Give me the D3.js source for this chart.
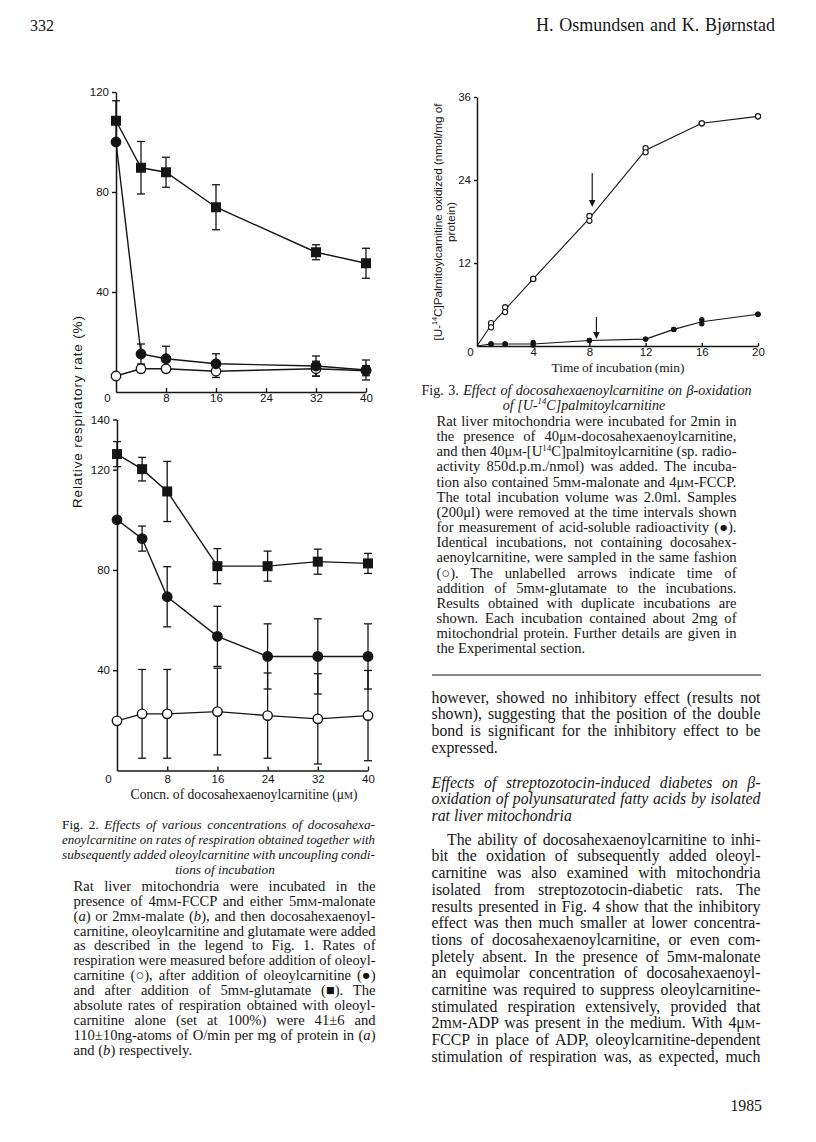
<!DOCTYPE html>
<html>
<head>
<meta charset="utf-8">
<script src="https://cdn.jsdelivr.net/npm/d3@7"></script>
<style>
  html, body { margin: 0; padding: 0; background: #fff; }
  svg { display: block; }
</style>
</head>
<body>
<script>
// Fig. 2 (a): respiration with 5mM-malonate, % of oleoylcarnitine alone
const concA = [0, 4, 8, 16, 32, 40];
const beforeA = [6.4, 9.3, 9.3, 8.3, 9.3, 8.5];
const beforeAErr = [0, 1.5, 1.2, 2.5, 3, 2];
const oleoylA = [100, 15.2, 13.3, 11.3, 10.4, 8.8];
const oleoylAErr = [0, 4, 5, 4, 4, 4];
const glutA = [108.5, 89.7, 87.9, 73.9, 55.9, 51.5];
const glutAErr = [8, 10.5, 6, 9, 3, 6];

// Fig. 2 (b): respiration with 2mM-malate
const concB = [0, 4, 8, 16, 24, 32, 40];
const beforeB = [19.8, 22.6, 22.6, 23.5, 21.9, 20.6, 21.9];
const beforeBErr = [0, 17.7, 17.7, 17.3, 17, 18, 18];
const oleoylB = [100, 92.5, 69.3, 53.5, 45.5, 45.5, 45.5];
const oleoylBErr = [0, 5, 12, 12, 13, 15, 13];
const glutB = [126.2, 120.2, 111.3, 81.5, 81.5, 83.3, 82.6];
const glutBErr = [5, 4.7, 12, 7, 6, 5, 4];

const concTicks = [0, 8, 16, 24, 32, 40];
const rateTicksA = [40, 80, 120];
const rateTicksB = [40, 80, 120, 140];

// Fig. 3: [U-14C]palmitoylcarnitine oxidized, duplicate incubations
const timeControl = [0, 1, 2, 4, 8, 12, 16, 20];
const controlRun1 = [0, 3.3, 5.6, 9.7, 18.8, 28.6, 32.2, 33.2];
const controlRun2 = [0, 2.7, 4.9, 9.7, 18.1, 28.0, 32.2, 33.2];
const timeDha = [0, 1, 2, 4, 8, 12, 14, 16, 20];
const dhaRun1 = [0, 0.3, 0.3, 0.5, 0.8, 1.0, 2.4, 3.8, 4.6];
const dhaRun2 = [0, 0.3, 0.3, 0.1, 0.8, 1.0, 2.4, 3.2, 4.6];
const arrowTime = [8.2, 8.5];
const arrowFrom = [25, 4.2];
const arrowTo = [20.1, 1.0];
const timeTicks = [0, 4, 8, 12, 16, 20];
const oxTicks = [12, 24, 36];

// page text
const fig2Title = [
  "Fig. 2. {i}Effects of various concentrations of docosahexa-{/i}",
  "{i}enoylcarnitine on rates of respiration obtained together with{/i}",
  "{i}subsequently added oleoylcarnitine with uncoupling condi-{/i}",
  "{i}tions of incubation{/i}"
];
const fig2Body = [
  "Rat liver mitochondria were incubated in the",
  "presence of 4m{sc}M{/sc}-FCCP and either 5m{sc}M{/sc}-malonate",
  "({i}a{/i}) or 2m{sc}M{/sc}-malate ({i}b{/i}), and then docosahexaenoyl-",
  "carnitine, oleoylcarnitine and glutamate were added",
  "as described in the legend to Fig. 1. Rates of",
  "respiration were measured before addition of oleoyl-",
  "carnitine (○), after addition of oleoylcarnitine (●)",
  "and after addition of 5m{sc}M{/sc}-glutamate (■). The",
  "absolute rates of respiration obtained with oleoyl-",
  "carnitine alone (set at 100%) were 41±6 and",
  "110±10ng-atoms of O/min per mg of protein in ({i}a{/i})",
  "and ({i}b{/i}) respectively."
];
const fig3Title = [
  "Fig. 3. {i}Effect of docosahexaenoylcarnitine on β-oxidation{/i}",
  "{i}of [U-{sup}14{/sup}C]palmitoylcarnitine{/i}"
];
const fig3Body = [
  "Rat liver mitochondria were incubated for 2min in",
  "the presence of 40μ{sc}M{/sc}-docosahexaenoylcarnitine,",
  "and then 40μ{sc}M{/sc}-[U{sup}14{/sup}C]palmitoylcarnitine (sp. radio-",
  "activity 850d.p.m./nmol) was added. The incuba-",
  "tion also contained 5m{sc}M{/sc}-malonate and 4μ{sc}M{/sc}-FCCP.",
  "The total incubation volume was 2.0ml. Samples",
  "(200μl) were removed at the time intervals shown",
  "for measurement of acid-soluble radioactivity (●).",
  "Identical incubations, not containing docosahex-",
  "aenoylcarnitine, were sampled in the same fashion",
  "(○). The unlabelled arrows indicate time of",
  "addition of 5m{sc}M{/sc}-glutamate to the incubations.",
  "Results obtained with duplicate incubations are",
  "shown. Each incubation contained about 2mg of",
  "mitochondrial protein. Further details are given in",
  "the Experimental section."
];
const para1 = [
  "however, showed no inhibitory effect (results not",
  "shown), suggesting that the position of the double",
  "bond is significant for the inhibitory effect to be",
  "expressed."
];
const heading = [
  "{i}Effects of streptozotocin-induced diabetes on β-{/i}",
  "{i}oxidation of polyunsaturated fatty acids by isolated{/i}",
  "{i}rat liver mitochondria{/i}"
];
const para2 = [
  "The ability of docosahexaenoylcarnitine to inhi-",
  "bit the oxidation of subsequently added oleoyl-",
  "carnitine was also examined with mitochondria",
  "isolated from streptozotocin-diabetic rats. The",
  "results presented in Fig. 4 show that the inhibitory",
  "effect was then much smaller at lower concentra-",
  "tions of docosahexaenoylcarnitine, or even com-",
  "pletely absent. In the presence of 5m{sc}M{/sc}-malonate",
  "an equimolar concentration of docosahexaenoyl-",
  "carnitine was required to suppress oleoylcarnitine-",
  "stimulated respiration extensively, provided that",
  "2m{sc}M{/sc}-ADP was present in the medium. With 4μ{sc}M{/sc}-",
  "FCCP in place of ADP, oleoylcarnitine-dependent",
  "stimulation of respiration was, as expected, much"
];

const SERIF = '"Liberation Serif", "Times New Roman", Times, serif';
const SANS = '"Liberation Sans", Arial, Helvetica, sans-serif';
const INK = '#151515';

const svg = d3.select('body').append('svg')
  .attr('width', 816).attr('height', 1142)
  .attr('viewBox', '0 0 816 1142');
svg.append('rect').attr('width', 816).attr('height', 1142).attr('fill', '#fff');

// small markup: {i} italic, {sc} small capital, {sup} superscript
function rich(text, str, fs) {
  let it = false, sc = false, sup = false, back = 0;
  str.split(/(\{\/?(?:i|sc|sup)\})/).forEach(p => {
    if (p === '{i}') it = true;
    else if (p === '{/i}') it = false;
    else if (p === '{sc}') sc = true;
    else if (p === '{/sc}') sc = false;
    else if (p === '{sup}') sup = true;
    else if (p === '{/sup}') sup = false;
    else if (p) {
      const t = text.append('tspan').text(p);
      if (it) t.attr('font-style', 'italic');
      if (sc) t.attr('font-size', fs * 0.74);
      if (sup) { t.attr('font-size', fs * 0.62).attr('dy', -fs * 0.38); back = fs * 0.38; }
      else if (back) { t.attr('dy', back); back = 0; }
    }
  });
}

// one line of text, y is the visual centre of the lowercase letters;
// with a width the line is justified by widening the word spaces,
// and squeezed a little when it is too long
function line(str, x, y, o) {
  const fs = o.fs;
  const t = svg.append('text')
    .attr('x', x).attr('y', y + fs * 0.3)
    .attr('font-family', o.fam || SERIF)
    .attr('font-size', fs)
    .attr('fill', INK)
    .attr('text-anchor', o.anchor || 'start');
  rich(t, str, fs);
  if (o.width) {
    const nat = t.node().getComputedTextLength();
    const spaces = (str.replace(/\{[^}]*\}/g, '').match(/ /g) || []).length;
    const ws = spaces ? (o.width - nat) / spaces : -99;
    if (ws >= -0.8) {
      t.attr('word-spacing', ws);
      const now = t.node().getComputedTextLength();
      if (Math.abs(now - o.width) > 2) t.attr('word-spacing', null)
        .attr('textLength', o.width).attr('lengthAdjust', 'spacing');
    } else {
      t.attr('textLength', o.width).attr('lengthAdjust', 'spacingAndGlyphs');
    }
  }
  return t;
}

// a justified block: every line but the last is stretched to the width
function block(lines, x, y0, step, width, fs, opts = {}) {
  lines.forEach((s, i) => {
    const last = i === lines.length - 1 && !opts.justifyLast;
    const indent = (i === 0 && opts.indent) ? opts.indent : 0;
    line(s, x + indent, y0 + i * step, { fs: fs, width: last ? null : width - indent });
  });
}

// ---------- header ----------
line('332', 30, 26, { fs: 16 });
line('H. Osmundsen and K. Bjørnstad', 536, 26, { fs: 18, width: 239 });

// ---------- Fig. 2 ----------
function axisStyle(g) {
  g.selectAll('path.domain').attr('stroke', INK).attr('stroke-width', 1.5);
  g.selectAll('.tick line').attr('stroke', INK).attr('stroke-width', 1.4);
  g.selectAll('.tick text').attr('font-family', SANS).attr('font-size', 11.5).attr('fill', INK);
}

function errorBars(g, x, y, xs, ys, errs, cap) {
  xs.forEach((xv, i) => {
    if (!errs[i]) return;
    const cx = x(xv), y1 = y(ys[i] + errs[i]), y2 = y(Math.max(0, ys[i] - errs[i]));
    g.append('line').attr('x1', cx).attr('x2', cx).attr('y1', y1).attr('y2', y2)
      .attr('stroke', INK).attr('stroke-width', 1.3);
    [y1, y2].forEach(yy => g.append('line')
      .attr('x1', cx - cap / 2).attr('x2', cx + cap / 2).attr('y1', yy).attr('y2', yy)
      .attr('stroke', INK).attr('stroke-width', 1.3));
  });
}

function respPanel(xRange, yRange, yMax, yTicks, xPad, conc, series) {
  const x = d3.scaleLinear().domain([0, 40]).range(xRange);
  const y = d3.scaleLinear().domain([0, yMax]).range(yRange);
  const g = svg.append('g');

  const xa = g.append('g').attr('transform', `translate(0,${yRange[0]})`)
    .call(d3.axisBottom(x).tickValues(concTicks).tickSize(-4).tickSizeOuter(0).tickPadding(xPad));
  xa.selectAll('.tick').filter(d => d === 0).select('line').remove();
  xa.selectAll('.tick').filter(d => d === 0).select('text').attr('x', -9);
  axisStyle(xa);

  const ya = g.append('g').attr('transform', `translate(${xRange[0]},0)`)
    .call(d3.axisLeft(y).tickValues(yTicks).tickSize(4).tickSizeOuter(0).tickPadding(3));
  axisStyle(ya);

  const path = d3.line().x((d, i) => x(conc[i])).y(d => y(d));
  series.forEach(s => g.append('path').attr('d', path(s.values))
    .attr('fill', 'none').attr('stroke', INK).attr('stroke-width', 1.4));
  series.forEach(s => errorBars(g, x, y, conc, s.values, s.errs, 8));
  series.forEach(s => {
    s.values.forEach((v, i) => {
      if (s.shape === 'square') {
        g.append('rect').attr('x', x(conc[i]) - 5).attr('y', y(v) - 5)
          .attr('width', 10).attr('height', 10).attr('fill', INK);
      } else {
        g.append('circle').attr('cx', x(conc[i])).attr('cy', y(v)).attr('r', 4.7)
          .attr('fill', s.shape === 'open' ? '#fff' : INK)
          .attr('stroke', INK).attr('stroke-width', 1.4);
      }
    });
  });
}

respPanel([116, 366], [392, 92], 120, rateTicksA, 2, concA, [
  { values: beforeA, errs: beforeAErr, shape: 'open' },
  { values: oleoylA, errs: oleoylAErr, shape: 'filled' },
  { values: glutA, errs: glutAErr, shape: 'square' }
]);
respPanel([117, 368], [770.5, 419.5], 140, rateTicksB, 4, concB, [
  { values: beforeB, errs: beforeBErr, shape: 'open' },
  { values: oleoylB, errs: oleoylBErr, shape: 'filled' },
  { values: glutB, errs: glutBErr, shape: 'square' }
]);

svg.append('text')
  .attr('transform', 'translate(77,412) rotate(-90)')
  .attr('y', 4.5).attr('text-anchor', 'middle')
  .attr('font-family', SANS).attr('font-size', 13.5).attr('fill', INK)
  .attr('textLength', 192).attr('lengthAdjust', 'spacing')
  .text('Relative respiratory rate (%)');
line('Concn. of docosahexaenoylcarnitine (μ{sc}M{/sc})', 244, 794.5, { fs: 13.6, anchor: 'middle' });

// Fig. 2 legend
block(fig2Title.slice(0, 3), 62, 825, 15, 313, 13.3, { justifyLast: true });
line(fig2Title[3], 225, 870.5, { fs: 13.3, anchor: 'middle' });
block(fig2Body, 73.5, 886.5, 14.9, 302, 14.6);

// ---------- Fig. 3 ----------
(function () {
  const x = d3.scaleLinear().domain([0, 20]).range([477, 758]);
  const y = d3.scaleLinear().domain([0, 36]).range([346, 97]);
  const g = svg.append('g');

  const xa = g.append('g').attr('transform', 'translate(0,346)')
    .call(d3.axisBottom(x).tickValues(timeTicks).tickSize(-3).tickSizeOuter(0).tickPadding(2));
  xa.selectAll('.tick').filter(d => d === 0).select('line').remove();
  xa.selectAll('.tick').filter(d => d === 0).select('text').attr('x', -7);
  axisStyle(xa);
  const ya = g.append('g').attr('transform', 'translate(477,0)')
    .call(d3.axisLeft(y).tickValues(oxTicks).tickSize(3).tickSizeOuter(0).tickPadding(3));
  axisStyle(ya);

  const mean = (a, b) => a.map((v, i) => (v + b[i]) / 2);
  const lineOf = ts => d3.line().x((d, i) => x(ts[i])).y(d => y(d));
  g.append('path').attr('d', lineOf(timeControl)(mean(controlRun1, controlRun2)))
    .attr('fill', 'none').attr('stroke', INK).attr('stroke-width', 1.1);
  g.append('path').attr('d', lineOf(timeDha)(mean(dhaRun1, dhaRun2)))
    .attr('fill', 'none').attr('stroke', INK).attr('stroke-width', 1.1);

  [controlRun1, controlRun2].forEach(run => run.forEach((v, i) => {
    if (timeControl[i] === 0) return;
    g.append('circle').attr('cx', x(timeControl[i])).attr('cy', y(v)).attr('r', 2.6)
      .attr('fill', '#fff').attr('stroke', INK).attr('stroke-width', 1.1);
  }));
  [dhaRun1, dhaRun2].forEach(run => run.forEach((v, i) => {
    if (timeDha[i] === 0) return;
    g.append('circle').attr('cx', x(timeDha[i])).attr('cy', y(v)).attr('r', 2.7).attr('fill', INK);
  }));

  arrowTime.forEach((t, i) => {
    const ax = x(t), y1 = y(arrowFrom[i]), y2 = y(arrowTo[i]);
    g.append('line').attr('x1', ax).attr('x2', ax).attr('y1', y1).attr('y2', y2 - 6)
      .attr('stroke', INK).attr('stroke-width', 1.2);
    g.append('path').attr('d', `M${ax - 3.2},${y2 - 7}L${ax + 3.2},${y2 - 7}L${ax},${y2}Z`).attr('fill', INK);
  });

  line('Time of incubation (min)', 551.5, 368, { fs: 13.4, width: 133 });
  const yt = svg.append('g').attr('transform', 'translate(438,222) rotate(-90)');
  const t1 = yt.append('text').attr('y', 3.6).attr('text-anchor', 'middle')
    .attr('font-family', SANS).attr('font-size', 11.8).attr('fill', INK)
    .attr('textLength', 237).attr('lengthAdjust', 'spacing');
  rich(t1, '[U-{sup}14{/sup}C]Palmitoylcarnitine oxidized (nmol/mg of', 11.8);
  yt.append('text').attr('y', 3.6 + 13.7).attr('text-anchor', 'middle')
    .attr('font-family', SANS).attr('font-size', 11.8).attr('fill', INK)
    .text('protein)');
})();

// Fig. 3 legend
line(fig3Title[0], 421.5, 390.5, { fs: 14.1, width: 330 });
line(fig3Title[1], 584, 405.5, { fs: 14.1, anchor: 'middle' });
block(fig3Body, 436.5, 421.5, 15.17, 300, 14.6);

// ---------- right column text ----------
svg.append('line').attr('x1', 432).attr('x2', 761).attr('y1', 675).attr('y2', 675)
  .attr('stroke', INK).attr('stroke-width', 1.2);
block(para1, 431.5, 698, 16.7, 329, 15.8);
block(heading, 431.5, 783, 16.7, 329, 15.8);
block(para2, 431.5, 840, 16.7, 329, 15.8, { indent: 15.5, justifyLast: true });
line('1985', 762, 1106, { fs: 15.8, anchor: 'end' });
</script>
</body>
</html>
